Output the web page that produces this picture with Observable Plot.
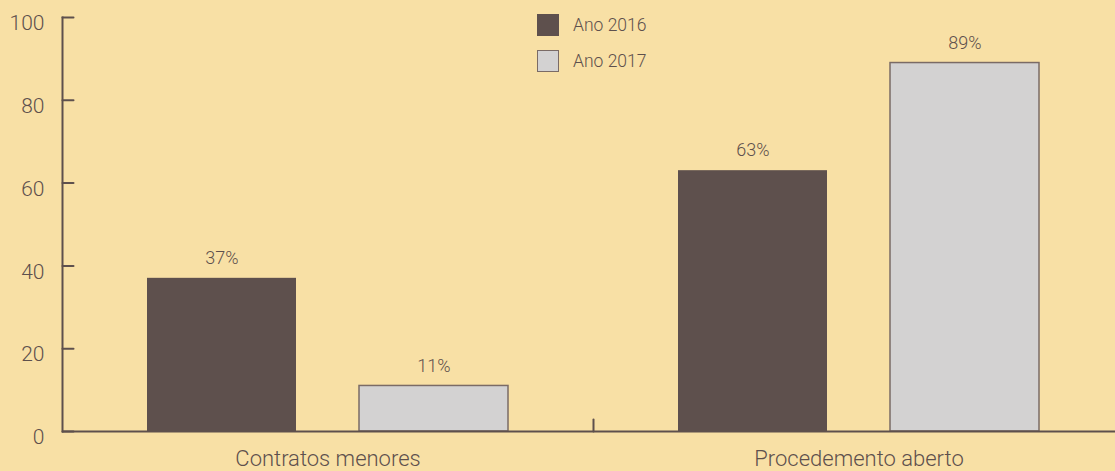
<!DOCTYPE html>
<html>
<head>
<meta charset="utf-8">
<script src="https://cdn.jsdelivr.net/npm/d3@7"></script>
<script src="https://cdn.jsdelivr.net/npm/@observablehq/plot@0.6"></script>
<style>
  html, body { margin: 0; padding: 0; background: #F8E0A5; }
  #wrap { position: relative; width: 1115px; height: 471px; font-family: Roboto, "Open Sans", sans-serif; font-weight: 300; color: #5E504D; }
  #legend { position: absolute; left: 537px; top: 14px; }
  .item { display: flex; align-items: center; height: 22px; margin-bottom: 14px; font-size: 17.5px; }
  .sw { width: 22px; height: 22px; box-sizing: border-box; margin-right: 14px; }
  svg text { font-weight: 300; }
</style>
</head>
<body>
<div id="wrap"><div id="legend"></div></div>
<script>
const categories = ["Contratos menores", "Procedemento aberto"];
const years = ["Ano 2016", "Ano 2017"];
const values2016 = [37, 63];
const values2017 = [11, 89];
const yTicks = [0, 20, 40, 60, 80, 100];
const barColors = ["#5E504D", "#D3D2D2"];

const ink = "#5E504D";
const rows = [];
categories.forEach((c, i) => {
  rows.push({category: c, year: years[0], value: values2016[i]});
  rows.push({category: c, year: years[1], value: values2017[i]});
});

const lineShape = {draw(context, l) { context.moveTo(0, 0); context.lineTo(0, -l); }};

const chart = Plot.plot({
  width: 1115,
  height: 471,
  marginLeft: 62,
  marginRight: -9,
  marginTop: 17,
  marginBottom: 40,
  style: {background: "#F8E0A5", fontFamily: "Roboto, 'Open Sans', sans-serif", color: ink, overflow: "visible"},
  fx: {domain: categories, padding: 0},
  x: {domain: years, paddingInner: 0.297, paddingOuter: 0.40, axis: null},
  y: {domain: [0, 100]},
  color: {domain: years, range: barColors},
  marks: [
    Plot.barY(rows.filter(d => d.year === years[0]), {fx: "category", x: "year", y: "value", fill: "year"}),
    Plot.barY(rows.filter(d => d.year === years[1]), {fx: "category", x: "year", y: "value", fill: "year", stroke: "#7a6b66", strokeWidth: 1.5}),
    Plot.text(rows, {fx: "category", x: "year", y: "value", text: d => d.value + "%", dy: -20, fontSize: 18, fill: ink}),
    Plot.ruleY([0], {stroke: ink, strokeWidth: 2}),
    Plot.frame({anchor: "left", fx: () => categories[0], stroke: ink, strokeWidth: 2}),
    Plot.vector(yTicks, {y: d => d, fx: () => categories[0], frameAnchor: "left", rotate: 90, length: 11, anchor: "start", shape: lineShape, stroke: ink, strokeWidth: 2}),
    Plot.vector([categories[1]], {fx: d => d, frameAnchor: "bottom-left", length: 12, anchor: "start", shape: lineShape, stroke: ink, strokeWidth: 2}),
    Plot.axisY(yTicks, {tickSize: 0, tickPadding: 18, fontSize: 21, dy: 6, label: null, fill: ink}),
    Plot.axisFx({anchor: "bottom", tickSize: 0, tickPadding: 19, fontSize: 22, label: null, fill: ink})
  ]
});

document.getElementById("wrap").prepend(chart);

const legend = document.getElementById("legend");
years.forEach((y, i) => {
  const item = document.createElement("div");
  item.className = "item";
  const sw = document.createElement("div");
  sw.className = "sw";
  sw.style.background = barColors[i];
  if (i === 1) sw.style.border = "1.5px solid #7a6b66";
  const t = document.createElement("span");
  t.textContent = y;
  item.append(sw, t);
  legend.append(item);
});
</script>
</body>
</html>
